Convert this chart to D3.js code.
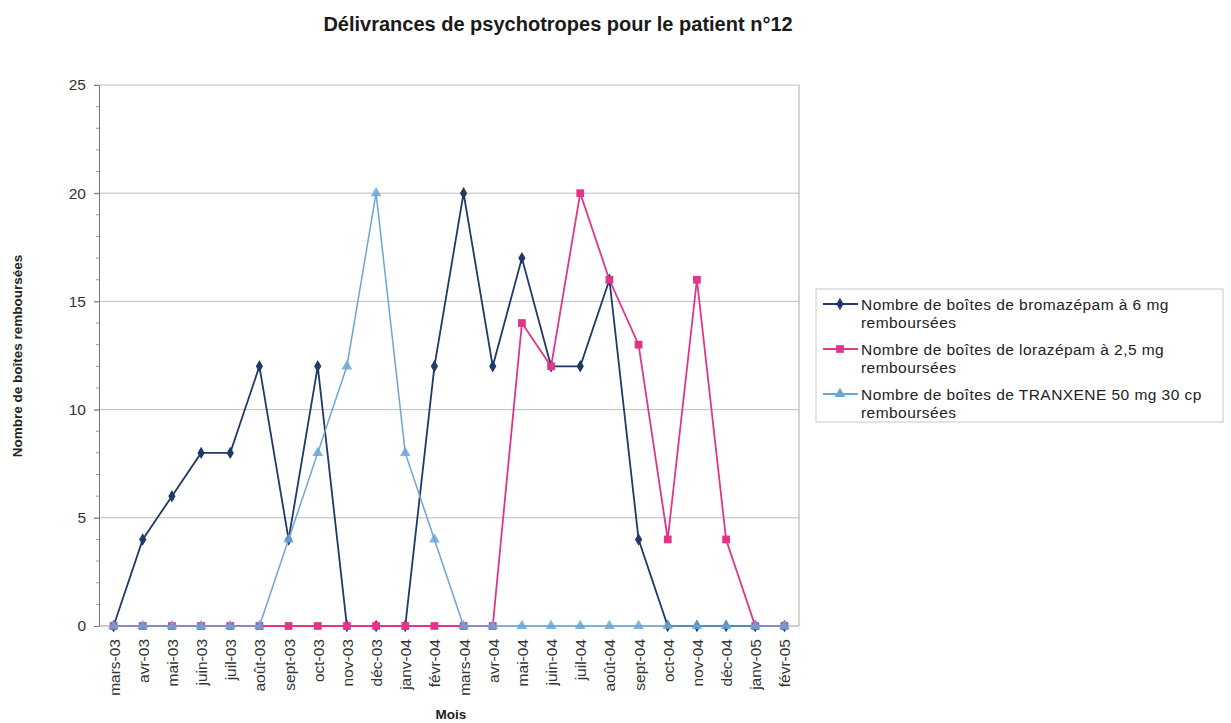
<!DOCTYPE html>
<html><head><meta charset="utf-8">
<script src="https://cdn.jsdelivr.net/npm/d3@7"></script>
<style>body{margin:0;background:#fff;} text{font-family:"Liberation Sans",Arial,sans-serif;}</style>
</head><body>
<svg id="c" width="1231" height="723"></svg>
<script>
const months = ["mars-03","avr-03","mai-03","juin-03","juil-03","août-03","sept-03","oct-03","nov-03","déc-03","janv-04","févr-04","mars-04","avr-04","mai-04","juin-04","juil-04","août-04","sept-04","oct-04","nov-04","déc-04","janv-05","févr-05"];
const bromazepam = [0,4,6,8,8,12,4,12,0,0,0,12,20,12,17,12,12,16,4,0,0,0,0,0];
const lorazepam  = [0,0,0,0,0,0,0,0,0,0,0,0,0,0,14,12,20,16,13,4,16,4,0,0];
const tranxene   = [0,0,0,0,0,0,4,8,12,20,8,4,0,0,0,0,0,0,0,0,0,0,0,0];
const seriesNames = ["Nombre de boîtes de bromazépam à 6 mg|remboursées","Nombre de boîtes de lorazépam à 2,5 mg|remboursées","Nombre de boîtes de TRANXENE 50 mg 30 cp|remboursées"];
const yTicks = [0,5,10,15,20,25];
const colors = ["#1f3a68","#e0358a","#6aa6d8"];
const shapes = [d3.symbolDiamond, d3.symbolSquare, d3.symbolTriangle];

const svg = d3.select("#c");
const L=99, R=799, T=85, B=626;
const x = d3.scalePoint().domain(months).range([L,R]).padding(0.5);
const y = d3.scaleLinear().domain([0,25]).range([B,T]);

svg.append("text").attr("x",558).attr("y",31).attr("text-anchor","middle")
  .attr("font-size",20).attr("font-weight","bold").attr("fill","#1a1a1a")
  .text("Délivrances de psychotropes pour le patient n°12");

// gridlines
svg.append("g").selectAll("line").data(yTicks.filter(v=>v>0)).join("line")
  .attr("x1",L-5).attr("x2",R).attr("y1",d=>y(d)).attr("y2",d=>y(d))
  .attr("stroke","#bdbdbd").attr("stroke-width",1);
// right border
svg.append("line").attr("x1",R).attr("x2",R).attr("y1",T).attr("y2",B).attr("stroke","#aaa");

// y axis
const ya = svg.append("g").attr("transform",`translate(${L},0)`)
  .call(d3.axisLeft(y).tickValues(yTicks).tickSize(5).tickPadding(8));
ya.select(".domain").attr("stroke","#777");
ya.selectAll(".tick line").attr("stroke","#777");
ya.selectAll("text").attr("font-size",15.5).attr("fill","#333").style("font-family","Liberation Sans, Arial, sans-serif");
// minor ticks
svg.append("g").selectAll("line").data(d3.range(1,25).filter(v=>v%5)).join("line")
  .attr("x1",L-3).attr("x2",L).attr("y1",d=>y(d)).attr("y2",d=>y(d)).attr("stroke","#999");

// x axis
const xa = svg.append("g").attr("transform",`translate(0,${B})`)
  .call(d3.axisBottom(x).tickSize(0).tickPadding(8));
xa.select(".domain").attr("stroke","#999").attr("d",`M${L},0H${R}`);
xa.selectAll("text").attr("font-size",15.5).attr("fill","#333")
  .style("font-family","Liberation Sans, Arial, sans-serif")
  .attr("transform","rotate(-90)").attr("text-anchor","end")
  .attr("x",-13).attr("y",0).attr("dy","0.35em");

// axis titles
svg.append("text").attr("transform","translate(22,356) rotate(-90)").attr("text-anchor","middle")
  .attr("font-size",13.5).attr("font-weight","bold").attr("fill","#222").text("Nombre de boîtes remboursées");
svg.append("text").attr("x",451).attr("y",719).attr("text-anchor","middle")
  .attr("font-size",13.5).attr("font-weight","bold").attr("fill","#222").text("Mois");

const data = [bromazepam, lorazepam, tranxene];
const line = d3.line().x((d,i)=>x(months[i])).y(d=>y(d));
data.forEach((s,k)=>{
  svg.append("path").datum(s).attr("d",line).attr("fill","none")
    .attr("stroke",colors[k]).attr("stroke-width",k===2?1.5:1.8);
  svg.append("g").selectAll("path").data(s).join("path")
    .attr("transform",(d,i)=>`translate(${x(months[i])},${y(d)})`)
    .attr("d",d3.symbol().type(shapes[k]).size(k===0?45:(k===1?60:50)))
    .attr("fill",colors[k]).attr("fill-opacity",k===2?0.85:1);
});

// legend
const lg = svg.append("g");
lg.append("rect").attr("x",816).attr("y",289).attr("width",407).attr("height",133)
  .attr("fill","#fff").attr("stroke","#c8c8c8");
seriesNames.forEach((n,k)=>{
  const yy = 304 + k*45;
  lg.append("line").attr("x1",823).attr("x2",858).attr("y1",yy).attr("y2",yy)
    .attr("stroke",colors[k]).attr("stroke-width",1.8);
  lg.append("path").attr("transform",`translate(840,${yy})`)
    .attr("d",d3.symbol().type(shapes[k]).size(k===0?45:(k===1?60:50))).attr("fill",colors[k]);
  const parts = n.split("|");
  parts.forEach((p,j)=>{
    lg.append("text").attr("x",861).attr("y",yy+6+j*18).attr("font-size",15.5)
      .attr("letter-spacing","0.45px").attr("fill","#222").text(p);
  });
});
</script>
</body></html>
